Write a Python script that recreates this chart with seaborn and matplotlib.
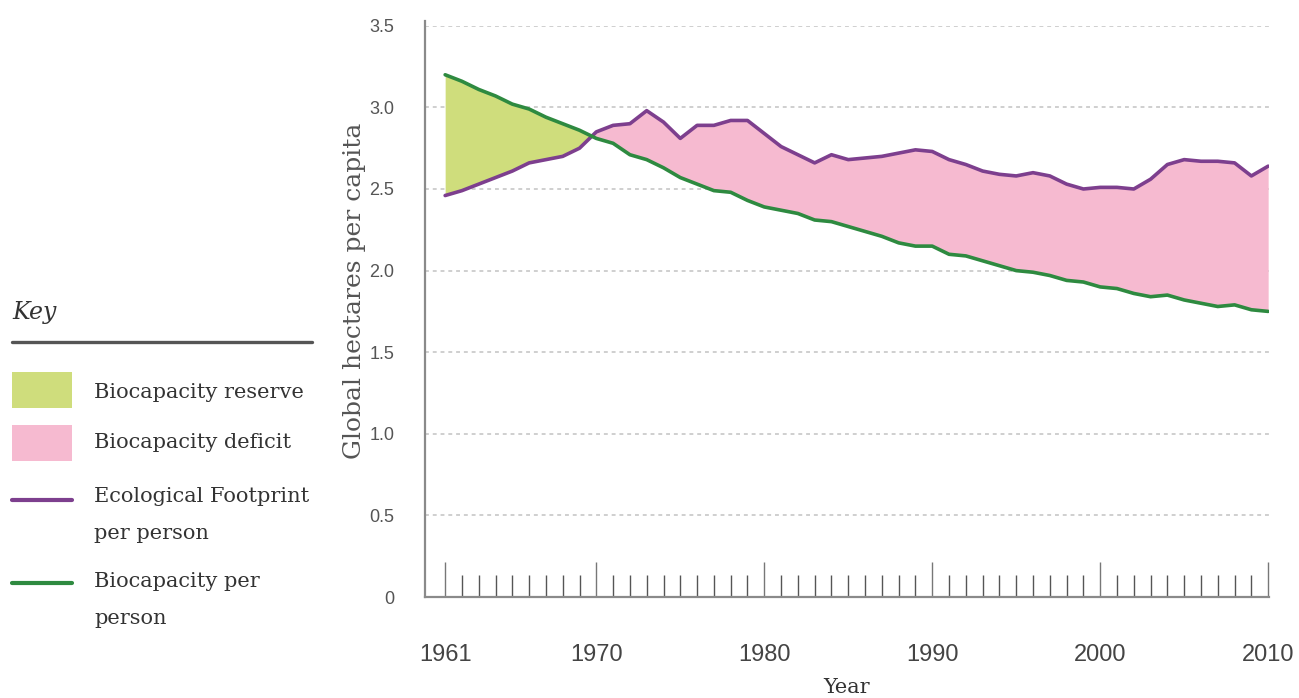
import numpy as np
import pandas as pd
import matplotlib
matplotlib.use('Agg')
import matplotlib.pyplot as plt
from matplotlib.lines import Line2D
from matplotlib.patches import Rectangle
import seaborn as sns

years = list(range(1961, 2011))
footprint = [2.46, 2.49, 2.53, 2.57, 2.61, 2.66, 2.68, 2.70, 2.75, 2.85,
             2.89, 2.90, 2.98, 2.91, 2.81, 2.89, 2.89, 2.92, 2.92, 2.84,
             2.76, 2.71, 2.66, 2.71, 2.68, 2.69, 2.70, 2.72, 2.74, 2.73,
             2.68, 2.65, 2.61, 2.59, 2.58, 2.60, 2.58, 2.53, 2.50, 2.51,
             2.51, 2.50, 2.56, 2.65, 2.68, 2.67, 2.67, 2.66, 2.58, 2.64]
biocapacity = [3.20, 3.16, 3.11, 3.07, 3.02, 2.99, 2.94, 2.90, 2.86, 2.81,
               2.78, 2.71, 2.68, 2.63, 2.57, 2.53, 2.49, 2.48, 2.43, 2.39,
               2.37, 2.35, 2.31, 2.30, 2.27, 2.24, 2.21, 2.17, 2.15, 2.15,
               2.10, 2.09, 2.06, 2.03, 2.00, 1.99, 1.97, 1.94, 1.93, 1.90,
               1.89, 1.86, 1.84, 1.85, 1.82, 1.80, 1.78, 1.79, 1.76, 1.75]
y_ticks = [0, 0.5, 1.0, 1.5, 2.0, 2.5, 3.0, 3.5]
y_labels = ['0', '0.5', '1.0', '1.5', '2.0', '2.5', '3.0', '3.5']
x_major = [1961, 1970, 1980, 1990, 2000, 2010]

key_labels = ['Biocapacity reserve', 'Biocapacity deficit',
              'Ecological Footprint\nper person', 'Biocapacity per\nperson']

GREEN_FILL = '#cfdd7c'
PINK_FILL = '#f6bad0'
PURPLE = '#7d3f8e'
GREEN = '#2e8a40'

df = pd.DataFrame({'year': years, 'footprint': footprint,
                   'biocapacity': biocapacity})

sns.set_style('white')
serif = ['DejaVu Serif']
narrow = ['Liberation Sans Narrow', 'Liberation Sans']

fig = plt.figure(figsize=(12.99, 6.98), dpi=100)
ax = fig.add_axes([425 / 1299, 1 - 597 / 698, 844 / 1299, 571.2 / 698])

fp = np.array(footprint)
bc = np.array(biocapacity)
ax.fill_between(years, fp, bc, where=fp <= bc, interpolate=True,
                color=GREEN_FILL, lw=0, zorder=2)
ax.fill_between(years, fp, bc, where=fp >= bc, interpolate=True,
                color=PINK_FILL, lw=0, zorder=2)
sns.lineplot(data=df, x='year', y='footprint', color=PURPLE, lw=2.6,
             ax=ax, zorder=4)
sns.lineplot(data=df, x='year', y='biocapacity', color=GREEN, lw=2.6,
             ax=ax, zorder=4)

ax.set_xlim(1959.8, 2010.05)
ax.set_ylim(0, 3.5)

for v in y_ticks[1:]:
    ax.axhline(v, color='#cfcfcf', lw=1.4, ls=(0, (2, 2)), zorder=1)

ax.set_yticks(y_ticks)
ax.set_yticklabels(y_labels, family=narrow, fontsize=13, color='#555555')
ax.tick_params(axis='y', left=False, length=0, pad=22)

ax.set_xticks(x_major)
ax.set_xticks(years, minor=True)
ax.set_xticklabels([str(y) for y in x_major], family=narrow, fontsize=17,
                   color='#444444')
ax.tick_params(axis='x', which='major', bottom=True, direction='in',
               length=25, width=1.0, color='#777777', pad=34)
ax.tick_params(axis='x', which='minor', bottom=True, direction='in',
               length=15.5, width=1.0, color='#555555')

for side in ['top', 'right']:
    ax.spines[side].set_visible(False)
for side in ['left', 'bottom']:
    ax.spines[side].set_color('#8a8a8a')
    ax.spines[side].set_linewidth(1.6)
ax.spines['left'].set_bounds(0, 3.53)

ax.set_xlabel('Year', family=serif, fontsize=15, color='#333333')
ax.xaxis.set_label_coords(0.5, -0.142)
ax.set_ylabel('Global hectares per capita', family=serif, fontsize=18,
              color='#555555')
ax.yaxis.set_label_coords(-0.07, 0.536)

# key on the left, in pixel coordinates
kx = fig.add_axes([0, 0, 330 / 1299, 1])
kx.set_xlim(0, 330)
kx.set_ylim(698, 0)
kx.axis('off')
kx.text(12, 312, 'Key', family=serif, style='italic', fontsize=17,
        color='#333333', va='center', ha='left')
kx.add_line(Line2D([12, 312], [342, 342], color='#555555', lw=2.4))
kx.add_patch(Rectangle((12, 372), 60, 36, color=GREEN_FILL, lw=0))
kx.add_patch(Rectangle((12, 425), 60, 36, color=PINK_FILL, lw=0))
kx.add_line(Line2D([12, 72], [500, 500], color=PURPLE, lw=3))
kx.add_line(Line2D([12, 72], [583, 583], color=GREEN, lw=3))
text_pos = [(392, 'center'), (443, 'center'), (487, 'top'), (572, 'top')]
for (ty, va), lab in zip(text_pos, key_labels):
    kx.text(94, ty, lab, family=serif, fontsize=15, color='#333333',
            va=va, ha='left', linespacing=2.2)

fig.savefig('out.png', dpi=100)
